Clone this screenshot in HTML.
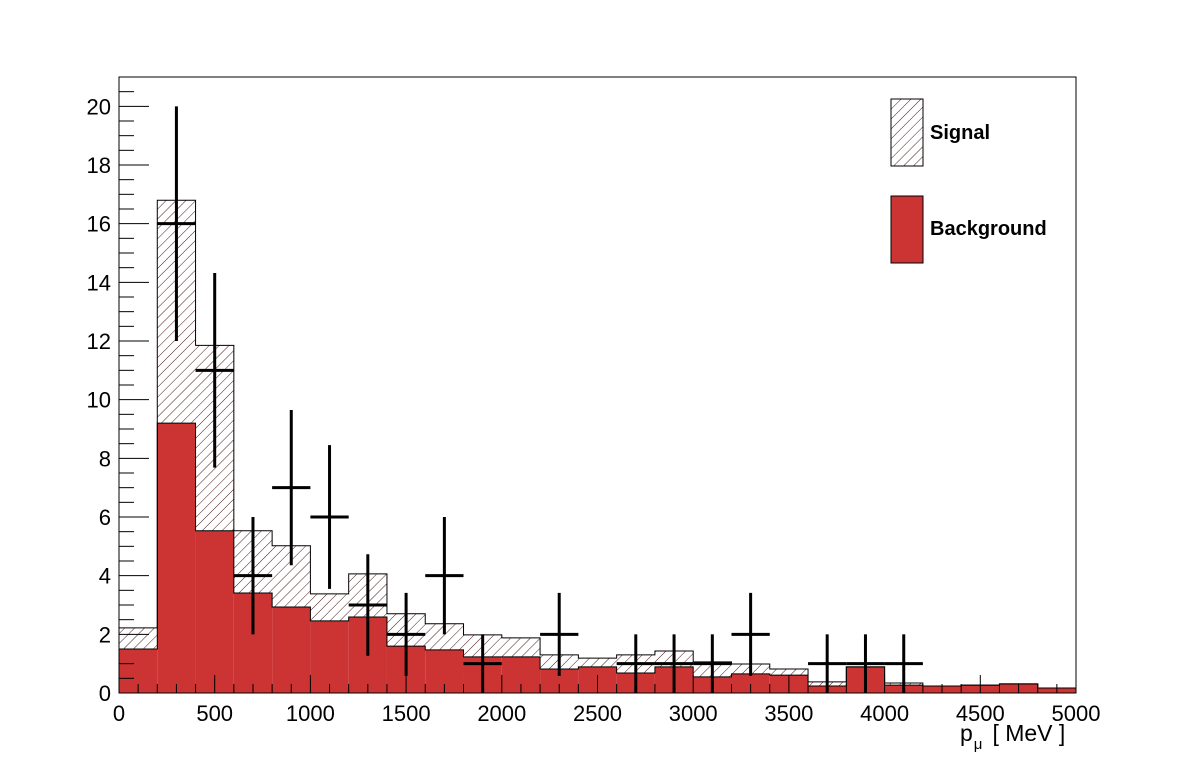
<!DOCTYPE html>
<html><head><meta charset="utf-8"><style>
body{margin:0;background:#fff;}
svg{display:block;font-family:"Liberation Sans",sans-serif;}
</style></head><body>
<svg id="c" width="1196" height="772" viewBox="0 0 1196 772">
<defs>
<pattern id="hatch" patternUnits="userSpaceOnUse" width="7" height="7" patternTransform="rotate(45)">
<line x1="0" y1="0" x2="0" y2="7" stroke="#4a1a1a" stroke-width="1"/>
</pattern>
</defs>
<g id="bars"></g>
<g id="pts"></g>
<rect x="119" y="77" width="957" height="616" fill="none" stroke="#000" stroke-width="1"/>
<g id="axes"></g>
<g>
<rect x="891" y="99" width="32" height="67" fill="url(#hatch)" stroke="#000"/>
<text x="930" y="139" font-size="20" font-weight="bold">Signal</text>
<rect x="891" y="196" width="32" height="67" fill="#cc3333" stroke="#000"/>
<text x="930" y="235" font-size="20" font-weight="bold">Background</text>
</g>
<text x="960" y="741" font-size="23">p<tspan font-size="15" dy="8" dx="1">μ</tspan><tspan dy="-8" dx="10">[ MeV ]</tspan></text>
</svg>
<script>
const binEdges=[0,200,400,600,800,1000,1200,1400,1600,1800,2000,2200,2400,2600,2800,3000,3200,3400,3600,3800,4000,4200,4400,4600,4800,5000];
const background=[1.5,9.2,5.53,3.41,2.93,2.46,2.59,1.6,1.47,1.23,1.23,0.82,0.89,0.68,0.89,0.55,0.65,0.61,0.24,0.89,0.27,0.24,0.27,0.31,0.17];
const total=[2.22,16.8,11.85,5.53,5.02,3.38,4.06,2.7,2.36,1.98,1.88,1.3,1.19,1.3,1.43,1.06,0.99,0.82,0.38,0.89,0.34,0.24,0.27,0.31,0.17];
const dataX=[300,500,700,900,1100,1300,1500,1700,1900,2300,2700,2900,3100,3300,3700,3900,4100];
const dataY=[16,11,4,7,6,3,2,4,1,2,1,1,1,2,1,1,1];
const xTicks=[0,500,1000,1500,2000,2500,3000,3500,4000,4500,5000];
const yTicks=[0,2,4,6,8,10,12,14,16,18,20];
const NS='http://www.w3.org/2000/svg';
const X=v=>119+v/5000*957;
const Y=v=>693-v/21*616;
function mk(t,a,p){const e=document.createElementNS(NS,t);for(const k in a)e.setAttribute(k,a[k]);p.appendChild(e);return e;}
const bars=document.getElementById('bars');
for(let i=0;i<background.length;i++){
 const x0=X(binEdges[i]),x1=X(binEdges[i+1]);
 const s=mk('rect',{x:x0,y:Y(total[i]),width:x1-x0,height:Y(background[i])-Y(total[i]),fill:'url(#hatch)'},bars);
 
 
 const b=mk('rect',{x:x0,y:Y(background[i]),width:x1-x0,height:693-Y(background[i]),fill:'#cc3333'},bars);
 
 
}
function outline(arr){let d='M'+X(0)+','+693;for(let i=0;i<arr.length;i++){d+=' L'+X(binEdges[i])+','+Y(arr[i])+' L'+X(binEdges[i+1])+','+Y(arr[i]);}d+=' L'+X(5000)+',693';return d;}
const o1=mk('path',{d:outline(total),fill:'none',stroke:'#000','stroke-width':1},bars);


const o2=mk('path',{d:outline(background),fill:'none',stroke:'#000','stroke-width':1},bars);


const pts=document.getElementById('pts');
for(let i=0;i<dataX.length;i++){
 const g=mk('g',{stroke:'#000','stroke-width':3},pts);
 
 
 const e=Math.sqrt(dataY[i]);
 mk('line',{x1:X(dataX[i]),x2:X(dataX[i]),y1:Y(dataY[i]+e),y2:Math.min(693,Y(dataY[i]-e))},g);
 mk('line',{x1:X(dataX[i]-100),x2:X(dataX[i]+100),y1:Y(dataY[i]),y2:Y(dataY[i])},g);
}
const ax=document.getElementById('axes');
for(let v=0;v<=5000;v+=100){const maj=v%500===0;mk('line',{x1:X(v),x2:X(v),y1:693,y2:693-(maj?18:9),stroke:'#000'},ax);}
for(let v=0;v<=21;v+=0.5){const maj=v%2===0;mk('line',{x1:119,x2:119+(maj?30:15),y1:Y(v),y2:Y(v),stroke:'#000'},ax);}
xTicks.forEach(v=>{const t=mk('text',{x:X(v),y:721,'font-size':22,'text-anchor':'middle'},ax);t.textContent=v;
 
 });
yTicks.forEach(v=>{const t=mk('text',{x:111,y:Y(v)+8,'font-size':22,'text-anchor':'end'},ax);t.textContent=v;
 
 });
</script>
</body></html>
